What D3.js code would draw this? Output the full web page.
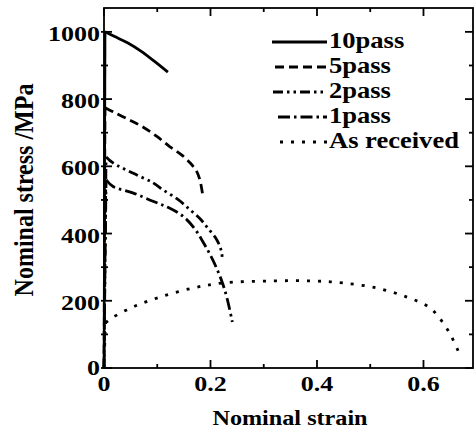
<!DOCTYPE html>
<html><head><meta charset="utf-8">
<script src="https://cdn.jsdelivr.net/npm/d3@7"></script>
<style>html,body{margin:0;padding:0;background:#fff;}svg{display:block;}text{font-family:"Liberation Serif","Times New Roman",serif;font-weight:bold;fill:#000;}</style>
</head><body><svg id="c" width="475" height="430"></svg>
<script>
// ---- data (strain, stress MPa) ----
const seriesNames = ["10pass","5pass","2pass","1pass","As received"];
// first two points = elastic (linear) part, the rest = plastic part
const pass10 = [[0,0],[0.002,1000],[0.02,986],[0.045,967],[0.07,942],[0.095,912],[0.12,880]];
const pass5 = [[0,0],[0.002,774],[0.017,762],[0.045,740],[0.073,717],[0.1,688],[0.124,658],[0.145,635],[0.162,610],[0.174,585],[0.18,560],[0.186,509]];
const pass2 = [[0,0],[0.004,628],[0.017,610],[0.054,580],[0.092,551],[0.111,530],[0.14,500],[0.162,470],[0.18,445],[0.193,420],[0.212,381],[0.22,350],[0.222,330]];
const pass1 = [[0,0],[0.004,560],[0.017,540],[0.054,521],[0.092,496],[0.12,478],[0.148,452],[0.17,415],[0.186,375],[0.2,335],[0.212,295],[0.222,255],[0.231,208],[0.241,137]];
const asReceived = [[0,0],[0.003,135],[0.015,149],[0.055,182],[0.105,211],[0.167,238],[0.224,253],[0.317,259],[0.392,259],[0.449,253],[0.512,238],[0.569,211],[0.612,179],[0.637,134],[0.653,92],[0.665,51]];
const xTicks = [0,0.2,0.4,0.6];
const yTicks = [0,200,400,600,800,1000];
const xTitle = "Nominal strain";
const yTitle = "Nominal stress /MPa";

const svg = d3.select("#c");
const SX = 1.18; // horizontal stretch of the scan
const x = d3.scaleLinear().domain([0,0.693]).range([104,473]);
const y = d3.scaleLinear().domain([0,1071]).range([368,8]);

// frame
svg.append("rect").attr("x",x(0)).attr("y",y(1071)).attr("width",x(0.693)-x(0)).attr("height",y(0)-y(1071))
  .attr("fill","none").attr("stroke","#000").attr("stroke-width",1.8);

// ticks
const xMinor = d3.range(0.1,0.7,0.2), yMinor = d3.range(100,1100,200);
const tk = svg.append("g").attr("stroke","#000").attr("stroke-width",1.8);
xTicks.concat(xMinor).forEach(v=>{
  const L = xTicks.includes(v)?8:4;
  tk.append("line").attr("x1",x(v)).attr("x2",x(v)).attr("y1",y(0)).attr("y2",y(0)-L);
  tk.append("line").attr("x1",x(v)).attr("x2",x(v)).attr("y1",y(1071)).attr("y2",y(1071)+L);
});
yTicks.concat(yMinor).forEach(v=>{
  const L = yTicks.includes(v)?8:4;
  tk.append("line").attr("y1",y(v)).attr("y2",y(v)).attr("x1",x(0)-3).attr("x2",x(0)+L);
  tk.append("line").attr("y1",y(v)).attr("y2",y(v)).attr("x1",x(0.693)).attr("x2",x(0.693)-L);
});

function htext(str,px,py,size,anchor){
  return svg.append("text").attr("transform",`translate(${px},${py}) scale(${SX},1)`)
    .attr("font-size",size).attr("text-anchor",anchor||"start").text(str);
}
// tick labels
xTicks.forEach(v=>htext(v===0?"0":d3.format(".1f")(v), x(v), 391, 22, "middle"));
yTicks.forEach(v=>htext(String(v), 100, y(v)+ (v===0?7:9), 22, "end"));
// titles
htext(xTitle, 290, 425, 20.5, "middle");
svg.append("text").attr("transform",`translate(33,190) rotate(-90) scale(1,${SX})`)
  .attr("font-size",24).attr("text-anchor","middle").text(yTitle);

// curves
const dashes = [null,"9,5","10,4,2.5,4,2.5,4","12,4,2.5,4","3,8"];
const datasets = [pass10,pass5,pass2,pass1,asReceived];
const elastic = d3.line().x(d=>x(d[0])).y(d=>y(d[1]));
const plastic = d3.line().x(d=>x(d[0])).y(d=>y(d[1])).curve(d3.curveCatmullRom.alpha(0.5));
datasets.forEach((ds,i)=>{
  svg.append("path").attr("d",elastic(ds.slice(0,2)))
    .attr("fill","none").attr("stroke","#000").attr("stroke-width",2.6).attr("stroke-dasharray",dashes[i]);
  svg.append("path").attr("d",plastic(ds.slice(1))).attr("fill","none").attr("stroke","#000")
    .attr("stroke-width",2.8).attr("stroke-dasharray",dashes[i]);
});

// legend
const legX1 = [272,275,273,278,280];
seriesNames.forEach((n,i)=>{
  const ly = 42 + i*25;
  svg.append("line").attr("x1",legX1[i]).attr("x2",327).attr("y1",ly).attr("y2",ly)
    .attr("stroke","#000").attr("stroke-width",2.8).attr("stroke-dasharray",dashes[i]);
  htext(n, 329, ly+6, 22.5, "start");
});
</script></body></html>
